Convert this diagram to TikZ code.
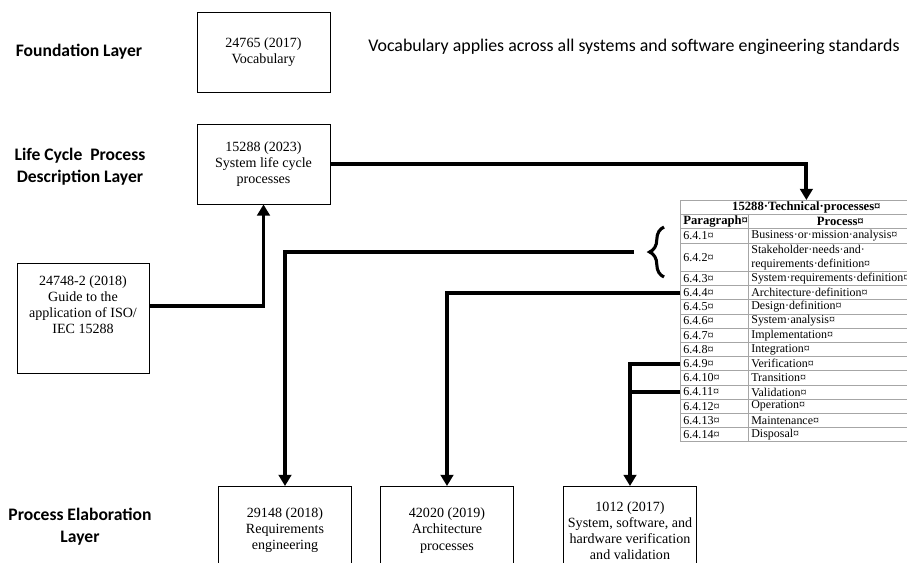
\documentclass[tikz,border=0pt]{standalone}
\usepackage{fontspec}
\setmainfont{Liberation Serif}
\newfontfamily\labelfont{Carlito}
\usetikzlibrary{positioning,arrows.meta,decorations.pathreplacing}

\begin{document}
\begin{tikzpicture}[x=0.025cm, y=-0.025cm,
  layer/.style={font=\labelfont\bfseries\fontsize{12.5}{15.5}\selectfont, align=center},
  note/.style={font=\labelfont\fontsize{12.7}{14}\selectfont, anchor=west, inner sep=0pt},
  stdbox/.style={rectangle, draw, line width=0.6pt, align=center, inner sep=1pt,
                 font=\fontsize{10}{11.5}\selectfont, minimum width=3.325cm, minimum height=2cm},
  pcell/.style={rectangle, draw=gray!70, line width=0.5pt, anchor=north west,
                inner ysep=0pt, inner xsep=0.075cm, text width=1.55cm, align=left,
                font=\fontsize{8.6}{10}\selectfont, minimum height=0.355cm},
  qcell/.style={pcell, text width=4.45cm, font=\fontsize{8.5}{10}\selectfont},
  hdcell/.style={font=\fontsize{9}{10}\selectfont\bfseries},
  conn/.style={line width=2.8pt, -{Triangle[width=9pt,length=8pt]}},
  link/.style={line width=2.8pt},
  curly/.style={line width=2.2pt, decorate, decoration={brace, amplitude=0.36cm}},
]
\useasboundingbox (0,0) rectangle (907,562);

% layer names
\node[layer] (lfound) at (79,52) {Foundation Layer};
\node[layer] (lcycle) at (80,167) {Life Cycle\ \ Process\\Description Layer};
\node[layer] (lelab)  at (80,527) {Process Elaboration\\Layer};

% standards
\node[stdbox] (vocab) at (263.5,52)  {24765 (2017)\\Vocabulary};
\node[note]   (vnote) at (368,47)    {Vocabulary applies across all systems and software engineering standards};
\node[stdbox] (slc)   at (263.5,164) {15288 (2023)\\System life cycle\\processes};
\node[stdbox, minimum width=3.3cm, minimum height=2.75cm] (guide) at (83,318) {};
\node[font=\fontsize{10}{11.5}\selectfont, align=center, anchor=north, inner sep=0pt]
    (guidetxt) at ([yshift=-0.32cm]guide.north)
    {24748-2 (2018)\\Guide to the\\application of ISO/\\IEC 15288};

\node[stdbox, anchor=north, minimum height=2.2cm] (req)  at (285,486) {29148 (2018)\\Requirements\\engineering};
\node[stdbox, anchor=north, minimum height=2.2cm] (arch) at (447,486) {42020 (2019)\\Architecture\\processes};
\node[stdbox, anchor=north, minimum height=2.2cm] (vv)   at (630,486)
    {1012 (2017)\\System, software, and\\hardware verification\\and validation};

% 15288 technical processes table
\node[pcell, hdcell, text width=6.15cm, align=center] (title) at (680,200)
    {15288·Technical·processes¤};
\node[pcell, hdcell] (p0) at (680,214.2) {Paragraph¤};
\node[qcell, hdcell, align=center] (q0) at (748,214.2) {Process¤};
\node[pcell] (p1) at (680,228.4) {6.4.1¤};
\node[qcell] (q1) at (748,228.4) {Business·or·mission·analysis¤};
\node[pcell, minimum height=0.71cm] (p2) at (680,242.6) {6.4.2¤};
\node[qcell, minimum height=0.71cm] (q2) at (748,242.6) {Stakeholder·needs·and·\\requirements·definition¤};
\foreach \k/\proc in {3/System·requirements·definition¤, 4/Architecture·definition¤,
    5/Design·definition¤, 6/System·analysis¤, 7/Implementation¤, 8/Integration¤,
    9/Verification¤, 10/Transition¤, 11/Validation¤, 12/Operation¤,
    13/Maintenance¤, 14/Disposal¤}{
  \pgfmathsetmacro\ry{271+(\k-3)*14.2}
  \node[pcell] (p\k) at (680,\ry) {6.4.\k¤};
  \node[qcell] (q\k) at (748,\ry) {\proc};
}

% brace over 6.4.1--6.4.3
\draw[curly] (664,277) -- (664,227);
\coordinate (bt) at (634,252);

% connectors
\draw[conn] (slc.east) -| (title.north);
\draw[conn] (guide.10) -| (slc.south);
\draw[conn] (bt) -| (req.north);
\draw[conn] (p4.west) -| (arch.north);
\draw[conn] (p9.west) -| (vv.north);
\draw[link] (p11.west) -- (p11.west -| vv.north);
\end{tikzpicture}
\end{document}
